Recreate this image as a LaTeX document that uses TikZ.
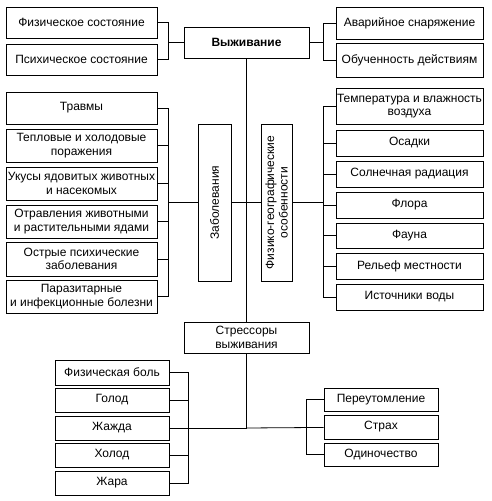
\documentclass[tikz,border=0pt]{standalone}
\usepackage{fontspec}
\setmainfont{Liberation Sans}
\usepackage{tikz}

\begin{document}
\begin{tikzpicture}[x=1pt,y=-1pt,
    box/.style={draw,line width=0.9pt,inner sep=0.5pt,align=center,
      font=\fontsize{12}{13.5}\selectfont},
    link/.style={line width=0.8pt}]
    \useasboundingbox (0,0) rectangle (492,501);
    \node[box,minimum width=125pt,minimum height=31pt,font=\fontsize{12}{13.5}\selectfont\bfseries]
      (surv) at (246.5,42.5) {Выживание};
    \node[box,minimum width=151pt,minimum height=31pt] (phys) at (81.5,22.5) {Физическое состояние};
    \node[box,minimum width=151pt,minimum height=31pt] (psych) at (81.5,59.5) {Психическое состояние};
    \node[box,minimum width=147pt,minimum height=32pt] (equip) at (409.5,23) {Аварийное снаряжение};
    \node[box,minimum width=147pt,minimum height=34pt] (train) at (409.5,60) {Обученность действиям};
    \coordinate (tl) at (168,42.5);
    \coordinate (tr) at (323,42.5);
    \draw[link] (phys.east) -| (tl) -- (surv);
    \draw[link] (psych.east) -| (tl);
    \draw[link] (equip.west) -| (tr) -- (surv);
    \draw[link] (train.west) -| (tr);

    \node[box,minimum width=157pt,minimum height=33pt,rotate=90] (dis) at (214.5,202.5) {Заболевания};
    \node[box,minimum width=157pt,minimum height=31pt,rotate=90] (geo) at (276.5,202.5)
      {Физико-географические\\особенности};
    \node[box,minimum width=151pt,minimum height=32pt] (inj) at (81.5,108) {Травмы};
    \node[box,minimum width=151pt,minimum height=33pt] (heat) at (81.5,145.5) {Тепловые и холодовые\\поражения};
    \node[box,minimum width=151pt,minimum height=33pt] (bite) at (81.5,183.5) {Укусы ядовитых животных\\и насекомых};
    \node[box,minimum width=151pt,minimum height=33pt] (pois) at (81.5,221.5) {Отравления животными\\и растительными ядами};
    \node[box,minimum width=151pt,minimum height=34pt] (ment) at (81.5,259) {Острые психические\\заболевания};
    \node[box,minimum width=151pt,minimum height=33pt] (para) at (81.5,296.5) {Паразитарные\\и инфекционные болезни};
    \coordinate (lm) at (168,202.5);
    \draw[link] (lm) -- (dis);
    \foreach \n in {inj,heat,bite,pois,ment,para}
      \draw[link] (\n.east) -| (lm);
    \draw[link] (dis) -- (geo);

    \node[box,minimum width=147pt,minimum height=36pt] (temp) at (409.5,106) {Температура и влажность\\воздуха};
    \node[box,minimum width=147pt,minimum height=26pt] (rain) at (409.5,143) {Осадки};
    \node[box,minimum width=147pt,minimum height=26pt] (sun) at (409.5,174) {Солнечная радиация};
    \node[box,minimum width=147pt,minimum height=26pt] (flora) at (409.5,205) {Флора};
    \node[box,minimum width=147pt,minimum height=25pt] (fauna) at (409.5,235.5) {Фауна};
    \node[box,minimum width=147pt,minimum height=26pt] (relief) at (409.5,266) {Рельеф местности};
    \node[box,minimum width=147pt,minimum height=26pt] (water) at (409.5,297) {Источники воды};
    \coordinate (rm) at (323,202.5);
    \draw[link] (geo) -- (rm);
    \foreach \n in {temp,rain,sun,flora,fauna,relief,water}
      \draw[link] (\n.west) -| (rm);

    \node[box,minimum width=125pt,minimum height=31pt] (stress) at (246.5,337.5) {Стрессоры\\выживания};
    \draw[link] (surv) -- (stress);
    \coordinate (bj) at (246.5,428);
    \draw[link] (stress) -- (bj);

    \node[box,minimum width=114pt,minimum height=25pt] (pain) at (112,372.5) {Физическая боль};
    \node[box,minimum width=114pt,minimum height=24pt] (hung) at (112,400) {Голод};
    \node[box,minimum width=114pt,minimum height=24pt] (thir) at (112,428) {Жажда};
    \node[box,minimum width=114pt,minimum height=24pt] (cold) at (112,455) {Холод};
    \node[box,minimum width=114pt,minimum height=24pt] (hot) at (112,483) {Жара};
    \coordinate (bl) at (188,428);
    \foreach \n in {pain,hung,cold,hot}
      \draw[link] (\n.east) -| (bl);
    \draw[link] (thir) -- (bj);

    \node[box,minimum width=114pt,minimum height=23pt] (tire) at (381,399.5) {Переутомление};
    \node[box,minimum width=114pt,minimum height=24pt] (fear) at (381,427) {Страх};
    \node[box,minimum width=114pt,minimum height=23pt] (lone) at (381,454.5) {Одиночество};
    \coordinate (br) at (306,428);
    \foreach \n in {tire,lone}
      \draw[link] (\n.west) -| (br);
    \draw[link] (bj) -- (fear);
\end{tikzpicture}
\end{document}
